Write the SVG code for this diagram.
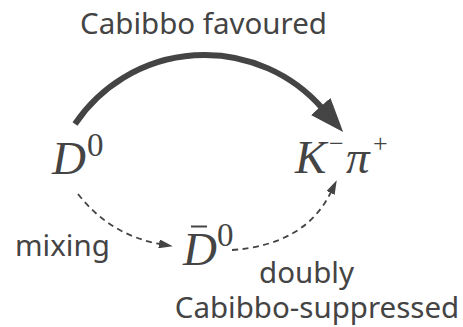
<svg xmlns="http://www.w3.org/2000/svg" width="463" height="327" viewBox="0 0 463 327">
<style>
.lbl{font-family:"Noto Sans","Liberation Sans",sans-serif;font-size:29.5px;fill:#444}
.math{font-family:"Liberation Serif","DejaVu Serif",serif;fill:#444}
.it{font-style:italic;font-size:47px}
.sup{font-size:33px}
.sup2{font-size:26px}
.thick{fill:none;stroke:#444;stroke-width:6}
.dash{fill:none;stroke:#444;stroke-width:1.8;stroke-dasharray:6 4.5}
</style>
<defs>
<marker id="big" markerUnits="userSpaceOnUse" markerWidth="34" markerHeight="28" viewBox="0 0 34 28" refX="2" refY="14" orient="auto">
<path d="M0,1 L34,14 L0,27 z" fill="#444"/>
</marker>
<marker id="small" markerUnits="userSpaceOnUse" markerWidth="14" markerHeight="9" viewBox="0 0 14 9" refX="1" refY="4.5" orient="auto">
<path d="M0,0 L14,4.5 L0,9 z" fill="#444"/>
</marker>
</defs>
<g id="connectors">
<path class="thick" d="M75,124 A156.3,156.3 0 0,1 322,108" marker-end="url(#big)"/>
<path class="dash" d="M78,194 Q110,235 160,244" marker-end="url(#small)"/>
<path class="dash" d="M232,250 Q305,245 331,192" marker-end="url(#small)"/>
</g>
<g id="label-favoured"><text class="lbl" x="203.5" y="34" text-anchor="middle">Cabibbo favoured</text></g>
<g id="node-D0">
<text class="math it" x="52" y="174">D</text>
<text class="math sup" x="87" y="156">0</text>
</g>
<g id="node-Kpi">
<text class="math it" x="295" y="173">K</text>
<text class="math sup2" x="329" y="152">−</text>
<text class="math it" x="346" y="173">π</text>
<text class="math sup2" x="373" y="152">+</text>
</g>
<g id="node-D0bar">
<text class="math it" x="183" y="265">D</text>
<line x1="191" y1="226.5" x2="207" y2="226.5" stroke="#444" stroke-width="2"/>
<text class="math sup" x="217" y="246">0</text>
</g>
<g id="label-mixing"><text class="lbl" x="15" y="256">mixing</text></g>
<g id="label-dcs">
<text class="lbl" x="306.5" y="283" text-anchor="middle">doubly</text>
<text class="lbl" x="317" y="318" text-anchor="middle">Cabibbo-suppressed</text>
</g>
</svg>
